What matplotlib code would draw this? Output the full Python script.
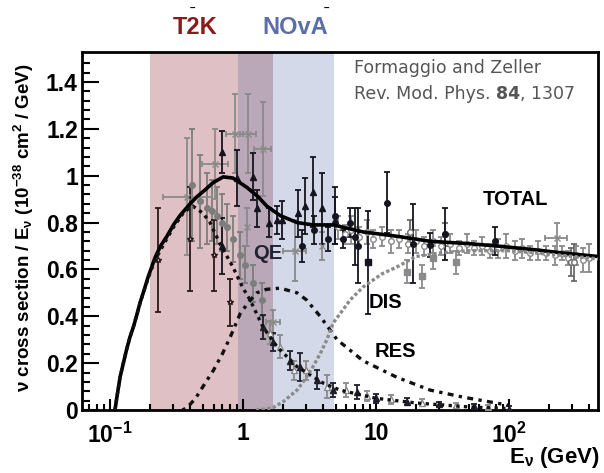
import matplotlib
matplotlib.use("Agg")
import matplotlib.pyplot as plt
import numpy as np

plt.rcParams["font.family"] = ["Liberation Sans", "DejaVu Sans"]
plt.rcParams["font.weight"] = "bold"
plt.rcParams["axes.labelweight"] = "bold"
plt.rcParams["mathtext.fontset"] = "custom"
plt.rcParams["mathtext.rm"] = "Liberation Sans:bold"
plt.rcParams["mathtext.bf"] = "Liberation Sans:bold"
plt.rcParams["mathtext.default"] = "bf"

# experiment energy bands (GeV)
t2k_band = [0.2, 1.68]
nova_band = [0.92, 4.83]

# model curves
tot_E = [0.109, 0.113, 0.119, 0.126, 0.133, 0.141, 0.150, 0.158, 0.168, 0.18, 0.194, 0.218, 0.24,
         0.267, 0.30, 0.336, 0.40, 0.45, 0.52, 0.595, 0.71, 0.84, 1.07, 1.3, 1.51, 1.9, 2.55, 3.36,
         4.75, 8, 15, 25.5, 50, 81, 150, 254, 470]
tot_y = [0.0, 0.06, 0.14, 0.20, 0.256, 0.31, 0.355, 0.40, 0.457, 0.51, 0.57, 0.65, 0.70,
         0.74, 0.79, 0.83, 0.88, 0.91, 0.94, 0.97, 0.995, 0.99, 0.95, 0.91, 0.87, 0.83, 0.80, 0.79,
         0.79, 0.76, 0.74, 0.72, 0.71, 0.70, 0.685, 0.67, 0.655]

qe_E = [0.109, 0.113, 0.119, 0.126, 0.133, 0.141, 0.150, 0.168, 0.194, 0.218, 0.267, 0.30, 0.36,
        0.42, 0.5, 0.565, 0.67, 0.84, 1.0, 1.13, 1.41, 1.8, 2.55, 4.0, 5.35, 10, 20, 50, 100]
qe_y = [0.0, 0.06, 0.14, 0.20, 0.256, 0.31, 0.355, 0.455, 0.565, 0.64, 0.73, 0.78, 0.845,
        0.87, 0.84, 0.80, 0.71, 0.61, 0.52, 0.47, 0.355, 0.27, 0.185, 0.115, 0.085, 0.05, 0.03, 0.013, 0.006]

res_E = [0.35, 0.38, 0.44, 0.5, 0.6, 0.7, 0.8, 0.95, 1.1, 1.27, 1.5, 1.9, 2.55, 3.0, 3.8, 5.1,
         8, 14.3, 25.5, 45, 100]
res_y = [0.0, 0.01, 0.05, 0.10, 0.17, 0.24, 0.31, 0.41, 0.46, 0.50, 0.515, 0.52, 0.50, 0.47, 0.40, 0.30,
         0.21, 0.14, 0.085, 0.055, 0.02]

dis_E = [1.25, 1.45, 1.68, 2.0, 2.55, 3.0, 3.36, 3.8, 4.27, 4.75, 5.35, 6.4, 8, 9, 11, 14.3, 20,
         30, 50, 100, 200, 470]
dis_y = [0.0, 0.003, 0.01, 0.035, 0.085, 0.14, 0.185, 0.24, 0.30, 0.37, 0.41, 0.47, 0.525, 0.545, 0.58, 0.61, 0.655,
         0.67, 0.68, 0.68, 0.665, 0.645]

# measurements
tri_E = [0.69, 0.90, 1.19, 1.27, 1.57, 1.8, 1.96, 2.6, 2.9, 3.37, 3.9, 4.9, 0.69]
tri_y = [1.10, 0.99, 0.995, 0.86, 0.80, 0.81, 0.81, 0.84, 0.87, 0.93, 0.86, 0.81, 0.70]
tri_err = [0.09, 0.12, 0.10, 0.08, 0.06, 0.06, 0.08, 0.10, 0.12, 0.15, 0.15, 0.10, 0.12]

blk_E = [2.8, 3.4, 4.35, 4.9, 5.6, 6.4, 6.9, 7.3, 12.0, 19.0, 25.5, 33.0, 78.0]
blk_y = [0.70, 0.77, 0.73, 0.83, 0.73, 0.80, 0.74, 0.70, 0.885, 0.71, 0.705, 0.75, 0.72]
blk_err = [0.07, 0.06, 0.05, 0.12, 0.04, 0.06, 0.12, 0.16, 0.13, 0.17, 0.05, 0.11, 0.06]

sq_E = [8.7]
sq_y = [0.63]
sq_err = [0.22]

gc_E = [0.41, 0.475, 0.535, 0.585, 0.64, 0.69, 0.76, 0.84, 0.95, 1.04, 1.19, 1.39]
gc_y = [0.96, 0.89, 0.86, 0.85, 0.83, 0.80, 0.78, 0.73, 0.66, 0.62, 0.54, 0.47]
gc_err = [0.24, 0.2, 0.15, 0.13, 0.12, 0.12, 0.1, 0.1, 0.1, 0.08, 0.08, 0.07]

gx_E = [0.38, 0.62, 0.87, 1.09, 1.41, 2.46, 1.68, 230.0, 1.07, 3.9]
gx_y = [0.91, 1.05, 1.18, 1.18, 1.115, 0.68, 0.375, 0.735, 0.78, 0.70]
gx_lo = [0.25, 0.49, 0.75, 0.95, 1.22, 2.0, 1.5, 185, 1.07, 3.9]
gx_hi = [0.58, 0.77, 1.0, 1.25, 1.62, 3.0, 1.9, 275, 1.07, 3.9]
gx_err = [0.25, 0.15, 0.17, 0.17, 0.2, 0.13, 0.05, 0.065, 0.08, 0.06]

st_E = [0.23, 0.40, 0.60, 0.80]
st_y = [0.64, 0.73, 0.66, 0.46]
st_err = [0.22, 0.22, 0.15, 0.1]

gs_E = [17, 22, 27, 40]
gs_y = [0.59, 0.57, 0.65, 0.63]
gs_err = [0.05, 0.05, 0.05, 0.05]

oc_E = [18, 33, 290, 310]
oc_y = [0.76, 0.75, 0.63, 0.63]
oc_err = [0.05, 0.05, 0.06, 0.08]

cl_E = [5.2, 5.8, 6.5, 7.5, 8.5, 9.5, 11, 13, 15, 17.5, 20, 23, 27, 31, 36, 42, 48, 55, 63, 72, 82,
        95, 110, 125, 145, 165, 190, 220, 250, 280, 320, 360, 400]
cl_y = [0.78, 0.75, 0.77, 0.74, 0.76, 0.73, 0.74, 0.72, 0.73, 0.71, 0.72, 0.70, 0.72, 0.70, 0.71, 0.69,
        0.71, 0.69, 0.70, 0.68, 0.69, 0.70, 0.68, 0.69, 0.67, 0.68, 0.67, 0.66, 0.67, 0.65, 0.66, 0.64, 0.65]
cl_err = [0.05, 0.04, 0.06, 0.04, 0.05, 0.04, 0.04, 0.05, 0.04, 0.04, 0.05, 0.04, 0.05, 0.04, 0.04, 0.03,
          0.04, 0.03, 0.04, 0.03, 0.04, 0.05, 0.04, 0.04, 0.03, 0.04, 0.03, 0.04, 0.03, 0.03, 0.04, 0.05, 0.06]

qt_E = [1.41, 1.68, 2.25, 2.7, 3.6, 4.75, 7.2, 10, 17, 30, 55, 100]
qt_y = [0.355, 0.29, 0.21, 0.185, 0.13, 0.085, 0.075, 0.05, 0.035, 0.025, 0.015, 0.006]
qt_err = [0.05, 0.04, 0.04, 0.06, 0.04, 0.03, 0.03, 0.02, 0.015, 0.01, 0.01, 0.01]

qg_E = [1.6, 1.9, 2.4, 3.0, 4.3, 6.0, 8.5, 13, 22, 40, 70]
qg_y = [0.33, 0.27, 0.17, 0.17, 0.10, 0.085, 0.06, 0.045, 0.03, 0.02, 0.012]
qg_err = [0.05, 0.05, 0.04, 0.04, 0.05, 0.03, 0.02, 0.02, 0.015, 0.01, 0.01]

fig = plt.figure(figsize=(6.04, 4.73), dpi=100)
ax = fig.add_axes([0.1358, 0.1332, 0.8543, 0.7569])

# bands, overlap drawn in its own colour
ax.axvspan(t2k_band[0], t2k_band[1], color="#dfc0c4", lw=0, zorder=0)
ax.axvspan(nova_band[0], nova_band[1], color="#d3d9e8", lw=0, zorder=0)
ax.axvspan(max(t2k_band[0], nova_band[0]), min(t2k_band[1], nova_band[1]), color="#baa8b8", lw=0, zorder=0)

eb = dict(ls="none", capsize=2.5, elinewidth=1.3, capthick=1.3, ms=4, zorder=3)
ax.errorbar(cl_E, cl_y, yerr=cl_err, fmt="o", color="#8a8a8a", mfc="white", **eb)
ax.errorbar(gc_E, gc_y, yerr=gc_err, fmt="o", color="#7d7d7d", **eb)
ax.errorbar(gx_E, gx_y, yerr=gx_err,
            xerr=[np.array(gx_E) - np.array(gx_lo), np.array(gx_hi) - np.array(gx_E)],
            fmt="x", color="#8a8a8a", **eb)
ax.errorbar(gs_E, gs_y, yerr=gs_err, fmt="s", color="#8a8a8a", **eb)
ax.errorbar(oc_E, oc_y, yerr=oc_err, fmt="o", color="#6a6a6a", mfc="white", **eb)
ax.errorbar(qg_E, qg_y, yerr=qg_err, fmt="^", color="#8a8a8a", mfc="white", **eb)
ax.errorbar(qt_E, qt_y, yerr=qt_err, fmt="^", color="#1e1e2a", **eb)
ax.errorbar(tri_E, tri_y, yerr=tri_err, fmt="^", color="#15151f", **eb)
ax.errorbar(blk_E, blk_y, yerr=blk_err, fmt="o", color="#15151f", **eb)
ax.errorbar(sq_E, sq_y, yerr=sq_err, fmt="s", color="#15151f", **eb)
ax.errorbar(st_E, st_y, yerr=st_err, fmt="*", color="#2a1a1a", mfc="white", **eb)

# model curves
ax.plot(tot_E, tot_y, color="black", lw=2.6, zorder=4)
ax.plot(qe_E, qe_y, color="#111111", lw=2.4, ls=(0, (1, 1.3)), zorder=4)
ax.plot(res_E, res_y, color="#111111", lw=2.4, ls=(0, (1, 1.6, 1.8, 1.6)), zorder=4)
ax.plot(dis_E, dis_y, color="#8a8a8a", lw=2.4, ls=(0, (1, 0.7)), zorder=4)

ax.text(111, 0.90, "TOTAL", fontsize=14.5, ha="center", va="center", zorder=5)
ax.text(1.54, 0.67, "QE", fontsize=14.5, ha="center", va="center", color="#222233", zorder=5)
ax.text(11.7, 0.457, "DIS", fontsize=14.5, ha="center", va="center", zorder=5)
ax.text(13.9, 0.248, "RES", fontsize=14.5, ha="center", va="center", zorder=5)

# reference note
t1 = ax.text(0.527, 0.93, "Formaggio and Zeller", transform=ax.transAxes, family="DejaVu Sans",
             fontweight="normal", fontsize=12.5, color="#555555", va="bottom", zorder=5)
t2 = ax.text(0.527, 0.858, "Rev. Mod. Phys.", transform=ax.transAxes, family="DejaVu Sans",
             fontweight="normal", fontsize=12.5, color="#555555", va="bottom", zorder=5)
t3 = ax.annotate("84", xy=(1, 0), xycoords=t2, xytext=(4, 0), textcoords="offset points",
                 family="DejaVu Sans", fontweight="bold", fontsize=12.5, color="#555555",
                 va="bottom", zorder=5)
ax.annotate(", 1307", xy=(1, 0), xycoords=t3, family="DejaVu Sans", fontweight="normal",
            fontsize=12.5, color="#555555", va="bottom", zorder=5)

ax.set_xscale("log")
ax.set_xlim(0.0616, 467)
ax.set_ylim(0, 1.528)
ax.set_xticks([0.1, 1, 10, 100])
ax.set_xticklabels(["10$^{-1}$", "1", "10", "10$^{2}$"])
ax.set_xticks([m * d for d in [0.01, 0.1, 1, 10, 100] for m in range(2, 10)
               if 0.0616 < m * d < 467], minor=True)
ax.set_yticks(np.arange(0, 1.41, 0.2))
ax.set_yticklabels(["0", "0.2", "0.4", "0.6", "0.8", "1", "1.2", "1.4"])
ax.set_yticks(np.arange(0, 1.52, 0.04), minor=True)
ax.tick_params(axis="both", which="both", direction="in", labelsize=16.5, width=1.5)
ax.tick_params(axis="y", which="major", length=12, pad=3)
ax.tick_params(axis="y", which="minor", length=6)
ax.tick_params(axis="x", which="major", length=8, pad=9)
ax.tick_params(axis="x", which="minor", length=4)
for s in ax.spines.values():
    s.set_linewidth(2)

ax.set_ylabel(r"$\nu$ cross section / E$_\nu$ (10$^{-38}$ cm$^2$ / GeV)", fontsize=13.5,
              fontweight="bold", va="center")
ax.yaxis.set_label_coords(-0.112, 0.51)
ax.set_xlabel(r"E$_\nu$ (GeV)", fontsize=16, fontweight="bold", ha="right", va="center")
ax.xaxis.set_label_coords(1.004, -0.134)

fig.text(195 / 604, 1 - 28 / 473, "T2K", color="#8b1a1a", fontsize=17, ha="center", va="center")
fig.text(295 / 604, 1 - 28 / 473, "NOvA", color="#5b6ea9", fontsize=17, ha="center", va="center")
# small marks above the band labels
fig.text(192 / 604, 1 - 9 / 473, "\u2013", fontsize=7, ha="center", va="center")
fig.text(326 / 604, 1 - 9 / 473, "\u2013", fontsize=7, ha="center", va="center")

fig.savefig("out.png", dpi=100)
